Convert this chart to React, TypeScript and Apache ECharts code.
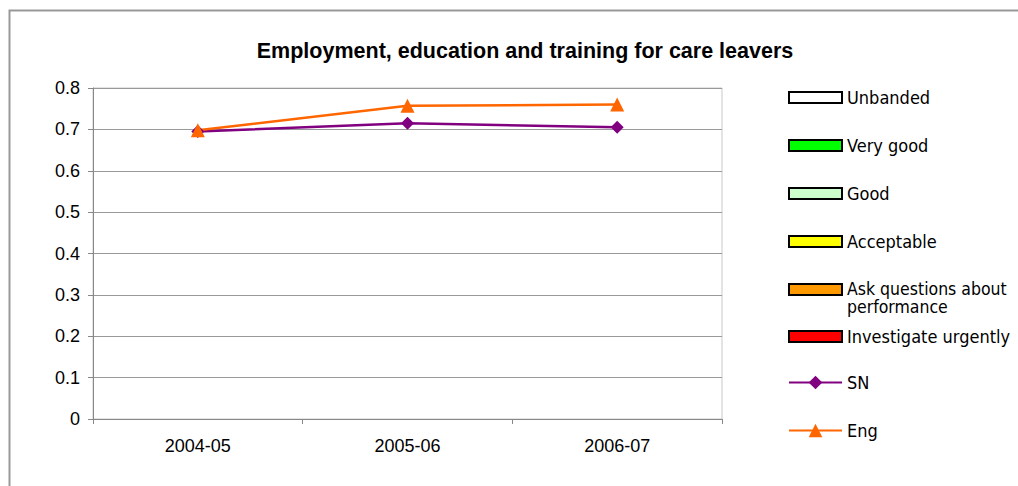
import React, { useEffect, useRef } from "react";
import * as echarts from "echarts";

const categories = ["2004-05", "2005-06", "2006-07"];
const snValues = [0.695, 0.715, 0.705];
const engValues = [0.698, 0.757, 0.76];
const bandNames = ["Unbanded", "Very good", "Good", "Acceptable", "Ask questions about performance", "Investigate urgently"];
const bandColors = ["#ffffff", "#00ff00", "#ccffcc", "#ffff00", "#ff9900", "#ff0000"];
const yTicks = { min: 0, max: 0.8, interval: 0.1 };
const title = "Employment, education and training for care leavers";
const wrappedName = "Ask questions about performance";

const LEGEND_FONT = "'DejaVu Sans Condensed', 'DejaVu Sans', sans-serif";
const AXIS_FONT = "Arial, 'Liberation Sans', sans-serif";
const legendCenters = [89, 137, 185, 233, 281, 328, 376, 424];

export default function App() {
  const ref = useRef<HTMLDivElement>(null);
  useEffect(() => {
    if (!ref.current) return;
    const chart = echarts.init(ref.current, null, { renderer: "svg" });
    const allNames = [...bandNames, "SN", "Eng"];
    const legends = allNames.map((name, i) => {
      const isLine = name === "SN" || name === "Eng";
      const h = isLine ? 17 : 11;
      return {
        data: [{ name, icon: isLine ? undefined : "rect" }],
        left: 780,
        top: legendCenters[i] - h / 2 - (isLine ? 2 : 3),
        orient: "vertical",
        itemWidth: 53,
        itemHeight: h,
        itemGap: 0,
        padding: 0,
        selectedMode: false,
        formatter: (n: string) => (n === wrappedName ? " " : n),
        textStyle: { fontFamily: LEGEND_FONT, fontSize: 18, color: "#000" },
      };
    });
    chart.setOption({
      animation: false,
      backgroundColor: "#fff",
      title: {
        text: title,
        left: 512,
        textAlign: "center",
        top: 27,
        textStyle: { fontFamily: AXIS_FONT, fontWeight: "bold", fontSize: 21.5, color: "#000" },
      },
      legend: legends,
      grid: { left: 85, top: 80, width: 629, height: 331, show: true, borderColor: "#c8c8c8", borderWidth: 1, backgroundColor: "#fff" },
      xAxis: {
        type: "category",
        data: categories,
        boundaryGap: true,
        axisLine: { lineStyle: { color: "#888", width: 1 } },
        axisTick: { show: true, length: 5, inside: false, lineStyle: { color: "#888" } },
        axisLabel: { fontFamily: AXIS_FONT, fontSize: 18, color: "#000", margin: 18 },
        splitLine: { show: false },
      },
      yAxis: {
        type: "value",
        min: yTicks.min,
        max: yTicks.max,
        interval: yTicks.interval,
        axisLine: { show: true, lineStyle: { color: "#888", width: 1 } },
        axisTick: { show: true, length: 5, lineStyle: { color: "#888" } },
        axisLabel: { fontFamily: AXIS_FONT, fontSize: 18, color: "#000", margin: 13, formatter: (v: number) => String(Math.round(v * 10) / 10) },
        splitLine: { show: true, lineStyle: { color: "#999", width: 1 } },
      },
      series: [
        ...bandNames.map((name, i) => ({
          name,
          type: "bar",
          data: [],
          itemStyle: { color: bandColors[i], borderColor: "#000", borderWidth: 1 },
        })),
        {
          name: "SN",
          type: "line",
          data: snValues,
          symbol: "diamond",
          symbolSize: 13,
          lineStyle: { color: "#800080", width: 2.5 },
          itemStyle: { color: "#800080" },
        },
        {
          name: "Eng",
          type: "line",
          data: engValues,
          symbol: "triangle",
          symbolSize: 14,
          lineStyle: { color: "#ff6600", width: 2.5 },
          itemStyle: { color: "#ff6600" },
        },
      ],
      graphic: [
        {
          type: "polyline",
          shape: { points: [[1.5, 1200], [1.5, 2.5], [1300, 2.5]] },
          style: { fill: "none", stroke: "#999", lineWidth: 2 },
          silent: true,
        },
        {
          type: "text",
          left: 839,
          top: 272,
          style: { text: "Ask questions about\nperformance", lineHeight: 18, fontFamily: LEGEND_FONT, fontSize: 17.5, fill: "#000" },
        },
      ],
    });
    return () => chart.dispose();
  }, []);
  return <div ref={ref} style={{ position: "absolute", left: 8, top: 8, width: 1010, height: 478, overflow: "hidden" }} />;
}
